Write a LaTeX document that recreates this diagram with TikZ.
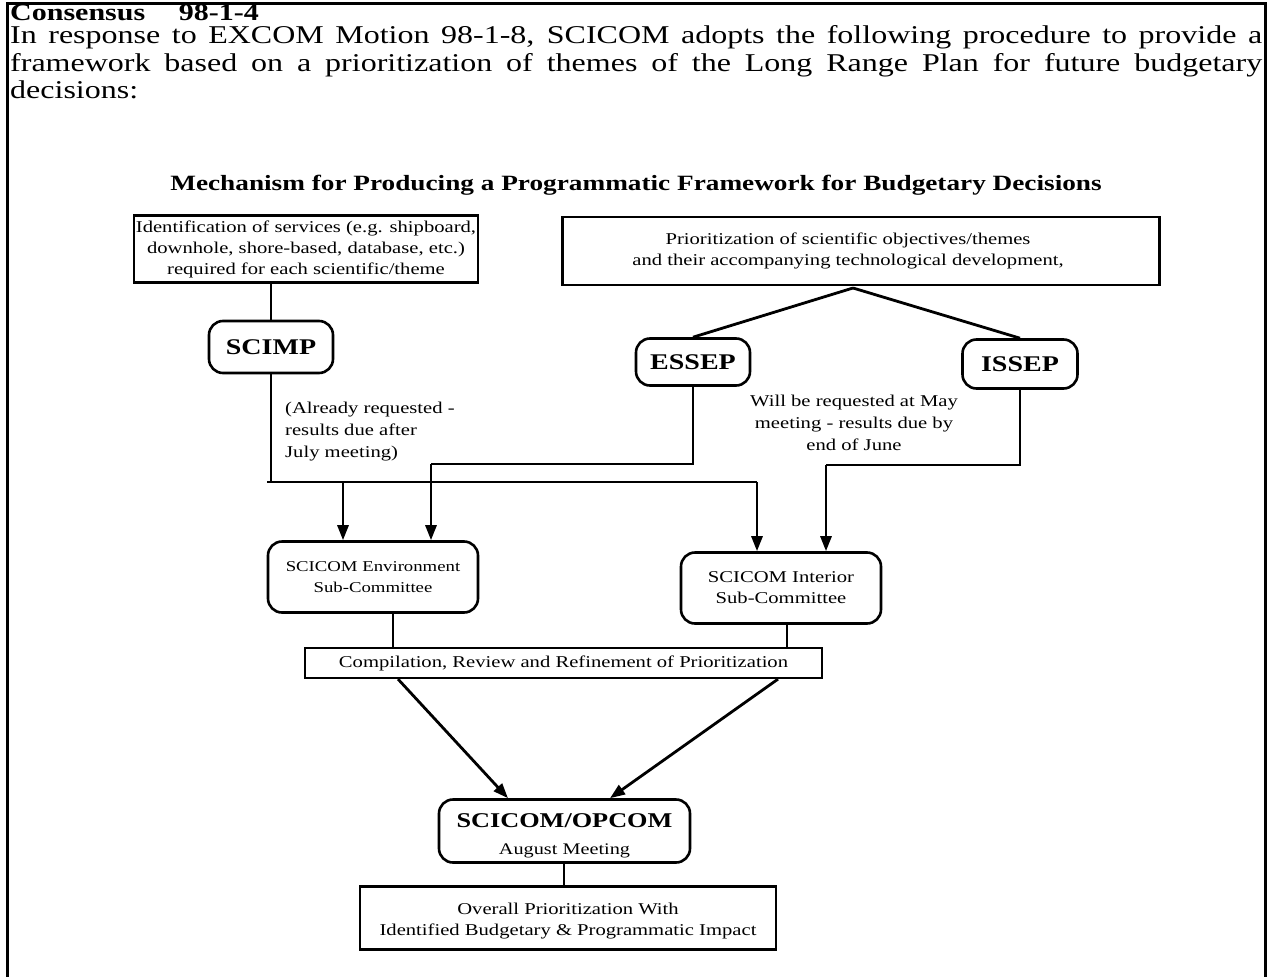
\documentclass[tikz,border=0pt]{standalone}
\usepackage{fontspec}
\setmainfont[FakeStretch=1.25]{Liberation Serif}
\usetikzlibrary{arrows.meta}
\tikzset{
  conn/.style={line width=2.8pt},
  arr/.style={conn,-{Triangle[length=15pt,width=11pt]}},
  sqbox/.style={draw,line width=2.2pt,inner sep=0pt,align=center,font=\fontsize{16.5}{21}\selectfont},
  rbox/.style={draw,line width=2.6pt,rounded corners=14pt,inner sep=0pt,align=center},
  panel/.style={rbox,font=\fontsize{22.4}{26}\selectfont\bfseries},
  note/.style={inner sep=0pt,font=\fontsize{16.5}{22}\selectfont},
}
\begin{document}
\begin{tikzpicture}[x=1pt,y=-1pt]
\useasboundingbox (0,0) rectangle (1272,977);
% frame
\draw[line width=3pt] (7,990) -- (7,3) -- (1265,3) -- (1265,990);
% title + paragraph
\node[anchor=north west,inner sep=0pt,text width=1252pt,align=justify,font=\fontsize{25.6}{27.5}\selectfont] (para) at (10,4.5)
 {{\fontsize{24}{27.5}\selectfont\bfseries Consensus\hspace{1.4em}98-1-4}\\[-4.5pt]
 In response to EXCOM Motion 98-1-8, SCICOM adopts the following procedure to provide a\linebreak framework based on a prioritization of themes of the Long Range Plan for future budgetary\linebreak decisions:};
\node[inner sep=0pt,font=\fontsize{21.8}{24}\selectfont\bfseries] (head) at (636,185)
 {Mechanism for Producing a Programmatic Framework for Budgetary Decisions};
% top boxes
\node[sqbox,minimum width=344pt,minimum height=67pt] (ident) at (306,249)
 {Identification of services (e.g. shipboard,\\ downhole, shore-based, database, etc.)\\ required for each scientific/theme};
\node[sqbox,minimum width=597pt,minimum height=68pt] (prio) at (861,251)
 {Prioritization of scientific objectives/themes\hspace*{26pt}\\ and their accompanying technological development,\hspace*{26pt}};
% panels
\node[panel,minimum width=124pt,minimum height=52pt] (scimp) at (271,347) {SCIMP};
\node[panel,minimum width=114pt,minimum height=47pt] (essep) at (693,362) {ESSEP};
\node[panel,minimum width=115pt,minimum height=49pt] (issep) at (1020,364) {ISSEP};
% notes
\node[note,anchor=north west,align=left] (n1) at (285,402) {(Already requested -\\ results due after\\ July meeting)};
\node[note,anchor=north,align=center] (n2) at (854,395) {Will be requested at May\\ meeting - results due by\\ end of June};
% sub-committees
\node[rbox,minimum width=210pt,minimum height=71pt,font=\fontsize{15}{21}\selectfont] (env) at (373,577) {SCICOM Environment\\ Sub-Committee};
\node[rbox,minimum width=200pt,minimum height=71pt,font=\fontsize{16.5}{21}\selectfont] (intr) at (781,588) {SCICOM Interior\\ Sub-Committee};
\node[sqbox,minimum width=517pt,minimum height=30pt] (comp) at (563.5,663) {Compilation, Review and Refinement of Prioritization};
\node[rbox,minimum width=251pt,minimum height=63pt,font=\fontsize{21}{27}\selectfont] (opcom) at (564.5,831)
 {\rule{0pt}{23pt}\textbf{SCICOM/OPCOM}\\ {\fontsize{16.2}{16}\selectfont August Meeting}};
\node[sqbox,minimum width=416pt,minimum height=63pt] (final) at (568,918)
 {\rule{0pt}{18pt}Overall Prioritization With\\ Identified Budgetary \& Programmatic Impact};
% coordinates
\coordinate (fork) at (853,288);
\coordinate (hL) at (267,482);
\coordinate (hR) at (757,482);
\coordinate (hE) at (343,482);
\coordinate (eL) at (431,464);
\coordinate (iL) at (826,465);
% connectors
\draw[conn] (scimp.north) -- (scimp.north |- ident.south);
\draw[conn] (fork) -- (essep.north);
\draw[conn] (fork) -- (issep.north);
\draw[conn] (scimp.south) -- (scimp.south |- hL);
\draw[conn] (hL) -- (hR);
\draw[arr] (hR) -- (intr.north -| hR);
\draw[arr] (hE) -- (env.north -| hE);
\draw[conn] (essep.south) |- (eL);
\draw[arr] (eL) -- (env.north -| eL);
\draw[conn] (issep.south) |- (iL);
\draw[arr] (iL) -- (intr.north -| iL);
\draw[conn] (env.south -| 393,0) -- (comp.north -| 393,0);
\draw[conn] (intr.south -| 787,0) -- (comp.north -| 787,0);
\draw[arr] (comp.south -| 398,0) -- (opcom.north -| 508,0);
\draw[arr] (comp.south -| 778,0) -- (opcom.north -| 610,0);
\draw[conn] (opcom.south -| 564,0) -- (final.north -| 564,0);
\end{tikzpicture}
\end{document}
